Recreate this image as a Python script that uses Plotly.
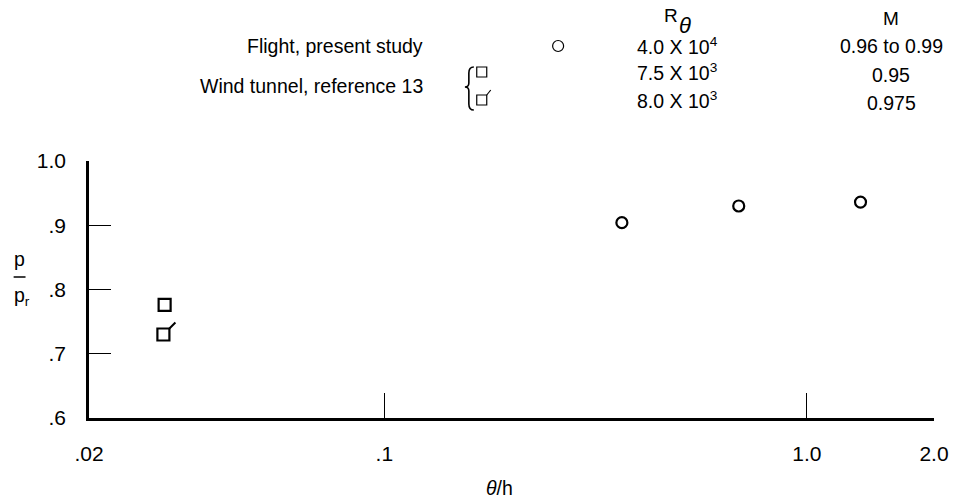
import math
import plotly.graph_objects as go

# ---------------- data ----------------
flight_x = [0.365, 0.690, 1.34]
flight_y = [0.904, 0.930, 0.936]
wt_a_x = [0.0302]          # R_theta 7.5e3, M 0.95
wt_a_y = [0.776]
wt_b_x = [0.0300]          # R_theta 8.0e3, M 0.975 (flagged)
wt_b_y = [0.730]

x_tickvals = [0.02, 0.1, 1.0, 2.0]
x_ticktext = [".02", ".1", "1.0", "2.0"]
y_tickvals = [0.6, 0.7, 0.8, 0.9, 1.0]
y_ticktext = [".6", ".7", ".8", ".9", "1.0"]

legend_labels = ["Flight, present study", "Wind tunnel, reference 13"]
r_theta_vals = ["4.0 X 10<sup>4</sup>", "7.5 X 10<sup>3</sup>", "8.0 X 10<sup>3</sup>"]
mach_vals = ["0.96 to 0.99", "0.95", "0.975"]

# ---------------- layout helpers ----------------
W, H = 961, 504
L, R, T, B = 89, 20, 161, 86
FONT = "Liberation Sans, Arial, sans-serif"
FS = 19.5


def px(x):
    return (x - L) / (W - L - R)


def py(y):
    return (H - B - y) / (H - T - B)


fig = go.Figure()

fig.add_trace(go.Scatter(
    x=flight_x, y=flight_y, mode="markers",
    marker=dict(symbol="circle-open", size=11, color="black", line=dict(width=2.2)),
    showlegend=False, cliponaxis=False))
fig.add_trace(go.Scatter(
    x=wt_a_x, y=wt_a_y, mode="markers",
    marker=dict(symbol="square-open", size=12, color="black", line=dict(width=2.2)),
    showlegend=False, cliponaxis=False))
fig.add_trace(go.Scatter(
    x=wt_b_x, y=wt_b_y, mode="markers",
    marker=dict(symbol="square-open", size=12, color="black", line=dict(width=2.2)),
    showlegend=False, cliponaxis=False))

shapes = []
# flag on the flagged square (anchored at the data point)
for xv, yv in zip(wt_b_x, wt_b_y):
    shapes.append(dict(type="line", xref="x", yref="y",
                       xsizemode="pixel", ysizemode="pixel",
                       xanchor=xv, yanchor=yv,
                       x0=6, y0=6, x1=12, y1=12,
                       line=dict(color="black", width=2)))

# key symbols
row_y = [46, 72, 100]
circ_x = 562
sq_x = 485
shapes.append(dict(type="circle", xref="paper", yref="paper",
                   xsizemode="pixel", ysizemode="pixel",
                   xanchor=px(circ_x), yanchor=py(row_y[0]),
                   x0=-5.5, x1=5.5, y0=-5.5, y1=5.5,
                   line=dict(color="black", width=1.2)))
for i in (1, 2):
    shapes.append(dict(type="rect", xref="paper", yref="paper",
                       xsizemode="pixel", ysizemode="pixel",
                       xanchor=px(sq_x), yanchor=py(row_y[i]),
                       x0=-5, x1=5, y0=-5, y1=5,
                       line=dict(color="black", width=1.2)))
shapes.append(dict(type="line", xref="paper", yref="paper",
                   xsizemode="pixel", ysizemode="pixel",
                   xanchor=px(sq_x), yanchor=py(row_y[2]),
                   x0=5, y0=5, x1=9, y1=10,
                   line=dict(color="black", width=1.2)))

# brace
bx = 472
top, mid, bot = 67, 87, 110


def P(x, y):
    return f"{px(x):.5f},{py(y):.5f}"


brace = (f"M {P(bx+5, top)} Q {P(bx, top)} {P(bx, top+6)} L {P(bx, mid-4)} "
         f"Q {P(bx, mid)} {P(bx-4, mid)} Q {P(bx, mid)} {P(bx, mid+4)} "
         f"L {P(bx, bot-6)} Q {P(bx, bot)} {P(bx+5, bot)}")
shapes.append(dict(type="path", xref="paper", yref="paper", path=brace,
                   line=dict(color="black", width=1.6)))

# y-axis fraction bar
shapes.append(dict(type="line", xref="paper", yref="paper",
                   x0=px(13), x1=px(25), y0=py(277), y1=py(277),
                   line=dict(color="black", width=1.5)))

ann = []


def add_text(x, y, text, anchor="center", size=FS):
    ann.append(dict(x=px(x), y=py(y), xref="paper", yref="paper", text=text,
                    showarrow=False, xanchor=anchor, yanchor="middle",
                    font=dict(family=FONT, size=size, color="black")))


# headers
add_text(676, 15, "R", size=19)
add_text(690, 25, "<i>θ</i>", size=22)
add_text(898, 18, "M", size=19)
# key rows
add_text(428, row_y[0], legend_labels[0], anchor="right")
add_text(428, 86, legend_labels[1], anchor="right")
m_y = [46, 75, 103]
for i in range(3):
    add_text(682, row_y[i], r_theta_vals[i])
    add_text(898, m_y[i], mach_vals[i])

# axis titles
add_text(19, 259, "p")
add_text(21, 296, "p<sub>r</sub>")
add_text(503, 488, "<i>θ</i>/h")

fig.update_layout(
    width=W, height=H,
    margin=dict(l=L, r=R, t=T, b=B, pad=0),
    paper_bgcolor="white", plot_bgcolor="white",
    font=dict(family=FONT, size=FS, color="black"),
    shapes=shapes, annotations=ann, showlegend=False,
    xaxis=dict(type="log", range=[math.log10(0.02), math.log10(2.0)],
               showline=True, linecolor="black", linewidth=2.5,
               showgrid=False, zeroline=False,
               ticks="inside", ticklen=25, tickwidth=1.4, tickcolor="black",
               tickvals=x_tickvals, ticktext=x_ticktext,
               ticklabelstandoff=15,
               tickfont=dict(family=FONT, size=21, color="black")),
    yaxis=dict(range=[0.6, 1.0],
               showline=True, linecolor="black", linewidth=2.5,
               showgrid=False, zeroline=False,
               ticks="inside", ticklen=22, tickwidth=1.4, tickcolor="black",
               tickvals=y_tickvals, ticktext=y_ticktext,
               ticklabelstandoff=16,
               tickfont=dict(family=FONT, size=21, color="black")),
)

fig.write_html("out.html")
